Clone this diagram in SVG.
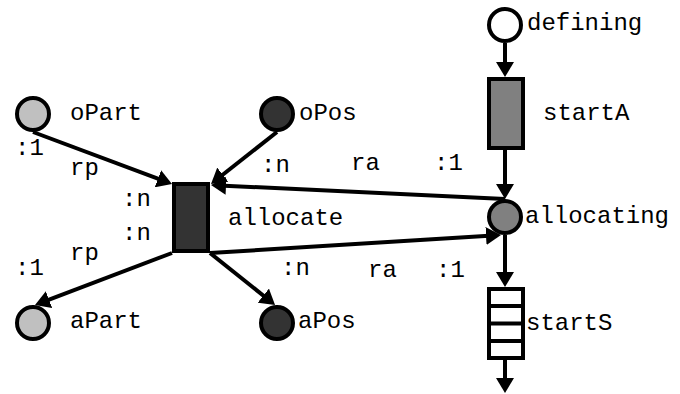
<svg xmlns="http://www.w3.org/2000/svg" width="680" height="394" viewBox="0 0 680 394">
  <style>
    text { font-family: "Liberation Mono", "Courier New", monospace; font-size: 24px; fill: #000; }
    .edge { stroke: #000; stroke-width: 4; fill: none; }
    .node { stroke: #000; stroke-width: 4; }
    .light { fill: #c0c0c0; }
    .dark { fill: #333333; }
    .mid { fill: #808080; }
    .blank { fill: #ffffff; }
  </style>
  <defs>
    <marker id="arrow" markerUnits="userSpaceOnUse" markerWidth="16" markerHeight="18" refX="7" refY="9" orient="auto">
      <path d="M0,0 L15,9 L0,18 z" fill="#000"/>
    </marker>
  </defs>

  <g id="connectors">
    <line class="edge" x1="505" y1="43" x2="505" y2="69" marker-end="url(#arrow)"/>
    <line class="edge" x1="505" y1="150" x2="505" y2="191" marker-end="url(#arrow)"/>
    <line class="edge" x1="505" y1="235" x2="505" y2="279" marker-end="url(#arrow)"/>
    <line class="edge" x1="505" y1="360" x2="505" y2="385" marker-end="url(#arrow)"/>
    <line class="edge" x1="33" y1="132" x2="164.5" y2="181.2" marker-end="url(#arrow)"/>
    <line class="edge" x1="277" y1="132" x2="217.3" y2="179" marker-end="url(#arrow)"/>
    <line class="edge" x1="505" y1="199" x2="219" y2="185.4" marker-end="url(#arrow)"/>
    <line class="edge" x1="210" y1="253" x2="493" y2="235.5" marker-end="url(#arrow)"/>
    <line class="edge" x1="172" y1="253" x2="42.5" y2="302.2" marker-end="url(#arrow)"/>
    <line class="edge" x1="210" y1="253" x2="268.8" y2="300" marker-end="url(#arrow)"/>
  </g>

  <g id="defining">
    <circle class="node blank" cx="505" cy="25" r="16"/>
    <text x="527" y="30">defining</text>
  </g>
  <g id="startA">
    <rect class="node mid" x="489" y="79" width="34" height="69"/>
    <text x="543" y="120">startA</text>
  </g>
  <g id="allocating">
    <circle class="node mid" cx="505" cy="217" r="16"/>
    <text x="525" y="223">allocating</text>
  </g>
  <g id="startS">
    <rect class="node blank" x="489" y="289" width="34" height="69"/>
    <line class="edge" x1="489" y1="306" x2="523" y2="306" stroke-width="3"/>
    <line class="edge" x1="489" y1="323.5" x2="523" y2="323.5" stroke-width="3"/>
    <line class="edge" x1="489" y1="341" x2="523" y2="341" stroke-width="3"/>
    <text x="526" y="330">startS</text>
  </g>
  <g id="oPart">
    <circle class="node light" cx="33" cy="114" r="16"/>
    <text x="70" y="120">oPart</text>
  </g>
  <g id="oPos">
    <circle class="node dark" cx="277" cy="114" r="16"/>
    <text x="299" y="120">oPos</text>
  </g>
  <g id="allocate">
    <rect class="node dark" x="174" y="184" width="34" height="67"/>
    <text x="228" y="225">allocate</text>
  </g>
  <g id="aPart">
    <circle class="node light" cx="33" cy="323" r="16"/>
    <text x="70" y="328">aPart</text>
  </g>
  <g id="aPos">
    <circle class="node dark" cx="277" cy="323" r="16"/>
    <text x="298" y="328">aPos</text>
  </g>

  <g id="edge-labels">
    <text x="15" y="155">:1</text>
    <text x="70" y="175">rp</text>
    <text x="261" y="172">:n</text>
    <text x="351" y="170">ra</text>
    <text x="434" y="170">:1</text>
    <text x="122" y="206">:n</text>
    <text x="122" y="240">:n</text>
    <text x="70" y="260">rp</text>
    <text x="15" y="275">:1</text>
    <text x="281" y="275">:n</text>
    <text x="368" y="277">ra</text>
    <text x="436" y="277">:1</text>
  </g>
</svg>
